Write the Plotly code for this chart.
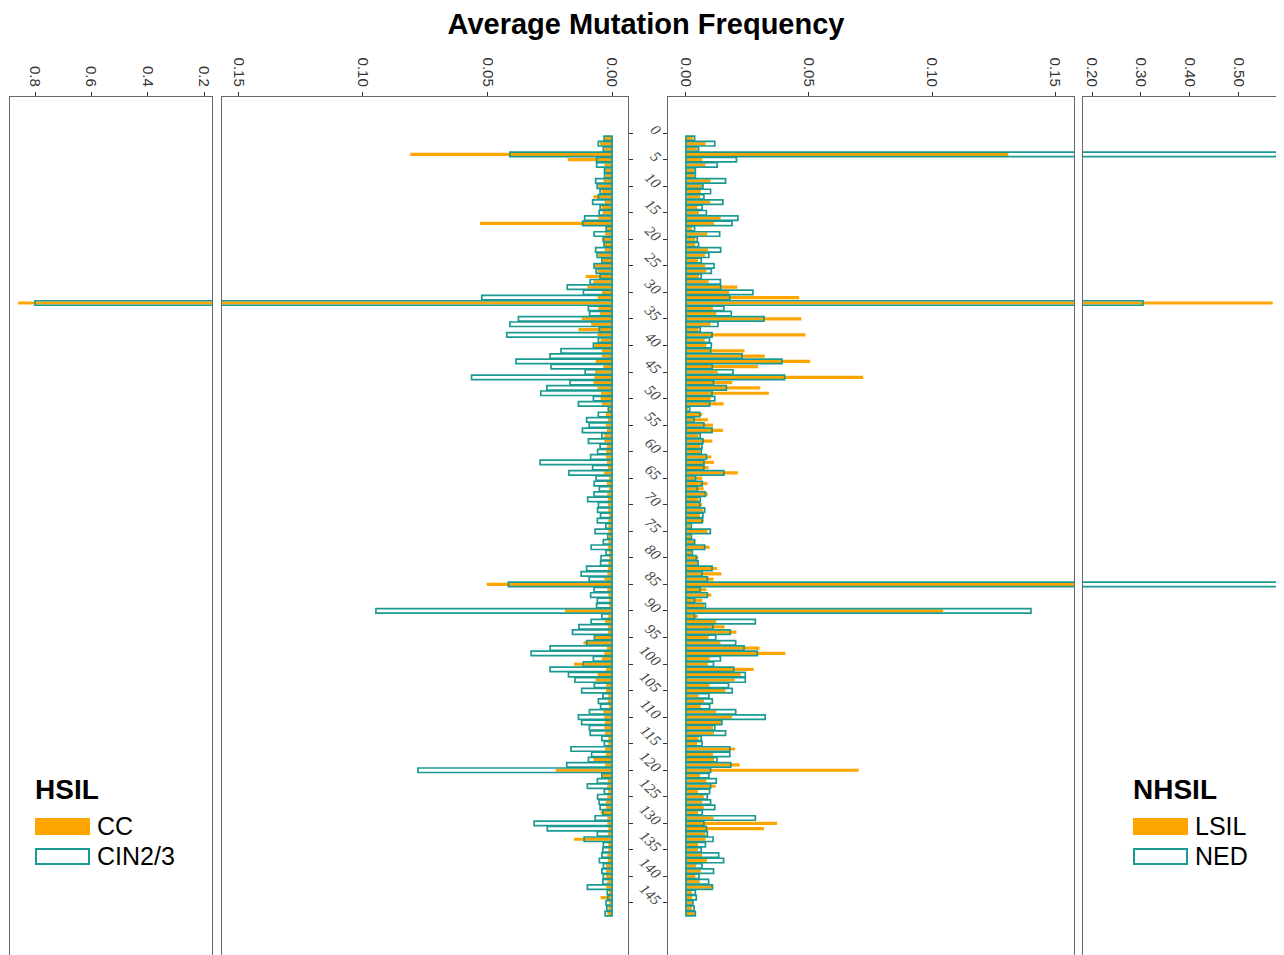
import plotly.graph_objects as go

# ---------------- data ----------------
positions = list(range(1, 148))

cc = [0.0028, 0.0048, 0.003, 0.081, 0.0178, 0.003, 0.0028, 0.0025, 0.0035, 0.0055,
      0.0042, 0.0075, 0.003, 0.0042, 0.0038, 0.0055, 0.053, 0.0021, 0.0028, 0.0041,
      0.003, 0.003, 0.0055, 0.0038, 0.0068, 0.0058, 0.0106, 0.0075, 0.0099, 0.0041,
      0.0058, 0.86, 0.0055, 0.0048, 0.0122, 0.0084, 0.0135, 0.0059, 0.0046, 0.0071,
      0.0041, 0.0041, 0.0066, 0.0035, 0.0068, 0.0071, 0.0075, 0.0059, 0.0044, 0.0046,
      0.0041, 0.0012, 0.0025, 0.0017, 0.0025, 0.0021, 0.0031, 0.0031, 0.0021, 0.0024,
      0.0024, 0.0021, 0.0017, 0.0033, 0.0012, 0.0021, 0.0012, 0.0019, 0.0017, 0.0017,
      0.0015, 0.0012, 0.0015, 0.0015, 0.0015, 0.0012, 0.0015, 0.0017, 0.0012, 0.0012,
      0.0015, 0.0017, 0.0019, 0.0031, 0.0503, 0.0019, 0.0015, 0.0012, 0.0012, 0.0189,
      0.0015, 0.0028, 0.0017, 0.0017, 0.0068, 0.0115, 0.0021, 0.0031, 0.0041, 0.0153,
      0.0024, 0.0058, 0.0066, 0.0024, 0.0024, 0.0015, 0.0017, 0.0012, 0.0035, 0.0031,
      0.0028, 0.0031, 0.0028, 0.0015, 0.0015, 0.0028, 0.0025, 0.0075, 0.0028, 0.0226,
      0.0037, 0.0017, 0.0019, 0.0015, 0.0019, 0.0025, 0.0024, 0.0046, 0.0019, 0.0019,
      0.0015, 0.0017, 0.0153, 0.0015, 0.0015, 0.0019, 0.0017, 0.0024, 0.0024, 0.0024,
      0.0019, 0.0024, 0.0012, 0.0046, 0.0012, 0.0015, 0.0019]

cin23 = [0.0032, 0.0055, 0.0035, 0.041, 0.0062, 0.0062, 0.003, 0.003, 0.0066, 0.006,
         0.0048, 0.0055, 0.0078, 0.0048, 0.0052, 0.011, 0.0118, 0.0024, 0.0072, 0.0035,
         0.0032, 0.0066, 0.006, 0.0041, 0.0072, 0.0064, 0.0048, 0.0088, 0.018, 0.0115,
         0.0523, 0.80, 0.0095, 0.009, 0.0376, 0.041, 0.0051, 0.0423, 0.0055, 0.0075,
         0.0205, 0.0249, 0.0386, 0.0245, 0.0108, 0.0564, 0.0169, 0.0262, 0.0286, 0.0075,
         0.0135, 0.0015, 0.0055, 0.0102, 0.0092, 0.0119, 0.0041, 0.0095, 0.0048, 0.0058,
         0.0086, 0.0289, 0.0078, 0.0173, 0.0064, 0.0072, 0.0051, 0.0072, 0.0098, 0.0055,
         0.0058, 0.0046, 0.0059, 0.0025, 0.0068, 0.0017, 0.0035, 0.0084, 0.0024, 0.0044,
         0.0046, 0.0102, 0.0124, 0.0092, 0.0416, 0.0072, 0.0086, 0.0059, 0.0062, 0.0948,
         0.0041, 0.0084, 0.0133, 0.0159, 0.0071, 0.0102, 0.0249, 0.0325, 0.0075, 0.0115,
         0.0249, 0.0175, 0.0149, 0.0071, 0.0122, 0.0037, 0.0055, 0.0046, 0.0091, 0.0135,
         0.0122, 0.0091, 0.0088, 0.0041, 0.0031, 0.0165, 0.0082, 0.0095, 0.0182, 0.0779,
         0.0041, 0.0059, 0.0099, 0.0031, 0.0058, 0.0052, 0.0048, 0.0037, 0.0068, 0.0313,
         0.026, 0.0059, 0.0112, 0.0035, 0.0037, 0.0041, 0.0051, 0.0035, 0.0041, 0.0035,
         0.0037, 0.0099, 0.0019, 0.0017, 0.0024, 0.0021, 0.0028]

lsil = [0.0028, 0.008, 0.0046, 0.131, 0.0066, 0.0079, 0.0035, 0.0033, 0.01, 0.0066,
        0.006, 0.0057, 0.0099, 0.0046, 0.0053, 0.0141, 0.0114, 0.0024, 0.0087, 0.0038,
        0.0038, 0.009, 0.0078, 0.0049, 0.0078, 0.0083, 0.0053, 0.0092, 0.0209, 0.0175,
        0.046, 0.569, 0.011, 0.0123, 0.0469, 0.01, 0.0051, 0.0486, 0.0076, 0.0083,
        0.0238, 0.032, 0.0505, 0.0293, 0.013, 0.072, 0.0188, 0.0302, 0.0337, 0.01,
        0.0153, 0.0008, 0.0066, 0.0089, 0.011, 0.015, 0.0051, 0.0107, 0.0058, 0.0058,
        0.0103, 0.0114, 0.0092, 0.0211, 0.0066, 0.0087, 0.0072, 0.0089, 0.0051, 0.0066,
        0.0069, 0.0056, 0.0073, 0.0018, 0.0087, 0.0019, 0.0038, 0.0096, 0.0022, 0.0051,
        0.0046, 0.0127, 0.0144, 0.0112, 0.165, 0.0083, 0.0103, 0.0066, 0.0073, 0.1045,
        0.0049, 0.0123, 0.0157, 0.0205, 0.0092, 0.014, 0.0299, 0.0404, 0.0096, 0.0089,
        0.0275, 0.0222, 0.0198, 0.0096, 0.016, 0.0051, 0.0073, 0.006, 0.0123, 0.0187,
        0.0144, 0.011, 0.0114, 0.0051, 0.0046, 0.02, 0.011, 0.0114, 0.0218, 0.0702,
        0.0058, 0.0083, 0.0121, 0.0049, 0.0073, 0.0066, 0.0072, 0.0049, 0.0112, 0.037,
        0.0317, 0.0079, 0.008, 0.0049, 0.0049, 0.0066, 0.0085, 0.0042, 0.006, 0.0038,
        0.0056, 0.0112, 0.0024, 0.0026, 0.0024, 0.0024, 0.0035]

ned = [0.0035, 0.0117, 0.0051, 0.577, 0.0205, 0.0127, 0.0038, 0.0038, 0.0161, 0.0069,
       0.01, 0.0073, 0.015, 0.0066, 0.0083, 0.0211, 0.0187, 0.0035, 0.0137, 0.0046,
       0.0051, 0.0141, 0.0093, 0.0062, 0.0114, 0.0103, 0.0062, 0.014, 0.0141, 0.0272,
       0.0178, 0.304, 0.0154, 0.0184, 0.0317, 0.013, 0.0058, 0.0106, 0.0096, 0.0103,
       0.01, 0.0228, 0.039, 0.0107, 0.0191, 0.0401, 0.0112, 0.0164, 0.0106, 0.0117,
       0.0096, 0.0015, 0.0056, 0.0033, 0.0073, 0.0106, 0.0058, 0.0069, 0.0065, 0.0062,
       0.0083, 0.0073, 0.0073, 0.0154, 0.0039, 0.0066, 0.0046, 0.0079, 0.0058, 0.0056,
       0.0076, 0.0069, 0.0066, 0.0022, 0.0099, 0.0022, 0.0035, 0.0076, 0.0026, 0.0042,
       0.0049, 0.0106, 0.0066, 0.0087, 0.579, 0.0058, 0.0087, 0.0035, 0.0079, 0.1402,
       0.0035, 0.0282, 0.011, 0.018, 0.0121, 0.0202, 0.0236, 0.029, 0.014, 0.0112,
       0.0194, 0.0241, 0.0241, 0.0173, 0.0188, 0.0093, 0.0107, 0.0096, 0.0202, 0.0322,
       0.0146, 0.0117, 0.0161, 0.0062, 0.0065, 0.0178, 0.0178, 0.0126, 0.0182, 0.01,
       0.0093, 0.0123, 0.01, 0.0096, 0.0087, 0.01, 0.0117, 0.0066, 0.0282, 0.0073,
       0.0083, 0.0087, 0.011, 0.0079, 0.0062, 0.0133, 0.0153, 0.0065, 0.0112, 0.0053,
       0.0092, 0.0107, 0.0038, 0.0042, 0.0028, 0.0033, 0.0038]

y_tick_vals = list(range(0, 150, 5))
y_tick_text = [str(v) for v in y_tick_vals]

x1_ticks = [0.2, 0.4, 0.6, 0.8]
x2_ticks = [0.00, 0.05, 0.10, 0.15]
x3_ticks = [0.00, 0.05, 0.10, 0.15]
x4_ticks = [0.20, 0.30, 0.40, 0.50]

# ---------------- style ----------------
OFF = 8                      # page body margin of the html page
W, H = 1284 - OFF, 955 - OFF
ORANGE = "#FFA500"
TEAL = "#1b9a92"
FRAME = "#666666"
TICKC = "#333333"


def px(x0, x1):
    return [(x0 - OFF) / W, min(1.0, (x1 - OFF) / W)]


def pxx(v):
    return (v - OFF) / W


def py(v):
    return 1 - (v - OFF) / H


fig = go.Figure()


def add_pair(o_vals, t_vals, xa, ya):
    fig.add_trace(go.Bar(y=positions, x=o_vals, orientation="h", width=0.6,
                         marker=dict(color=ORANGE, line=dict(width=0)),
                         xaxis=xa, yaxis=ya, showlegend=False, hoverinfo="x+y"))
    fig.add_trace(go.Bar(y=positions, x=t_vals, orientation="h", width=0.85,
                         marker=dict(color="rgba(255,255,255,0)",
                                     line=dict(color=TEAL, width=1.7)),
                         xaxis=xa, yaxis=ya, showlegend=False, hoverinfo="x+y"))


add_pair(cc, cin23, "x", "y")
add_pair(cc, cin23, "x2", "y2")
add_pair(lsil, ned, "x3", "y3")
add_pair(lsil, ned, "x4", "y4")

ytop = py(97)
yrange = [154.8, -6.8]

tickfont_top = dict(family="Liberation Sans, Arial, sans-serif", size=15, color=TICKC)


def xax(domain, rng, ticks, fmt, anchor):
    return dict(domain=domain, range=rng, side="top", anchor=anchor,
                tickvals=ticks, tickformat=fmt, tickangle=90,
                ticks="outside", ticklen=4, tickcolor=TICKC,
                tickfont=tickfont_top, showgrid=False, zeroline=False,
                showline=True, linecolor=FRAME, linewidth=1, mirror=False,
                fixedrange=True)


def yax(anchor, side="left", ticks="", labels=False):
    d = dict(domain=[0, ytop], range=yrange, anchor=anchor, side=side,
             showgrid=False, zeroline=False, showline=True, linecolor=FRAME,
             linewidth=1, mirror=True, tickvals=y_tick_vals, ticktext=y_tick_text,
             ticks=ticks, ticklen=4, tickcolor=TICKC, showticklabels=labels,
             fixedrange=True)
    if labels:
        d.update(tickangle=45,
                 tickfont=dict(family="Liberation Serif, Times New Roman, serif",
                               size=15, color="#444444", style="italic"))
    return d


fig.update_layout(
    width=W, height=H,
    margin=dict(l=0, r=0, t=0, b=0),
    paper_bgcolor="white", plot_bgcolor="white",
    barmode="overlay",
    showlegend=False,
    xaxis=xax(px(10, 212), [0.889, 0.1716], x1_ticks, ".1f", "y"),
    xaxis2=xax(px(222, 628), [0.1566, -0.0064], x2_ticks, ".2f", "y2"),
    xaxis3=xax(px(668, 1074), [-0.0073, 0.1577], x3_ticks, ".2f", "y3"),
    xaxis4=xax(px(1083, 1290), [0.1816, 0.592], x4_ticks, ".2f", "y4"),
    yaxis=yax("x"),
    yaxis2=yax("x2", side="right", ticks="outside"),
    yaxis3=yax("x3", side="left", ticks="outside", labels=True),
    yaxis4=yax("x4"),
    title=dict(text="<b>Average Mutation Frequency</b>", x=pxx(646), xanchor="center",
               y=py(24), yanchor="middle",
               font=dict(family="Liberation Sans, Arial, sans-serif", size=29,
                         color="black")),
)

# ---------------- legends ----------------
legend_font = dict(family="Liberation Sans, Arial, sans-serif", size=25, color="black")
head_font = dict(family="Liberation Sans, Arial, sans-serif", size=28, color="black")

for x0, head, lab1, lab2 in [(35, "HSIL", "CC", "CIN2/3"), (1133, "NHSIL", "LSIL", "NED")]:
    fig.add_annotation(x=pxx(x0 - 2), y=py(789), xref="paper", yref="paper",
                       text="<b>%s</b>" % head, showarrow=False, xanchor="left",
                       yanchor="middle", font=head_font)
    fig.add_shape(type="rect", xref="paper", yref="paper",
                  x0=pxx(x0), x1=pxx(x0 + 55), y0=py(835), y1=py(818),
                  fillcolor=ORANGE, line=dict(width=0))
    fig.add_shape(type="rect", xref="paper", yref="paper",
                  x0=pxx(x0 + 1), x1=pxx(x0 + 54), y0=py(864), y1=py(849),
                  fillcolor="white", line=dict(color=TEAL, width=2))
    fig.add_annotation(x=pxx(x0 + 60), y=py(826), xref="paper", yref="paper",
                       text=lab1, showarrow=False, xanchor="left", yanchor="middle",
                       font=legend_font)
    fig.add_annotation(x=pxx(x0 + 60), y=py(856), xref="paper", yref="paper",
                       text=lab2, showarrow=False, xanchor="left", yanchor="middle",
                       font=legend_font)

fig.write_html("out.html")
